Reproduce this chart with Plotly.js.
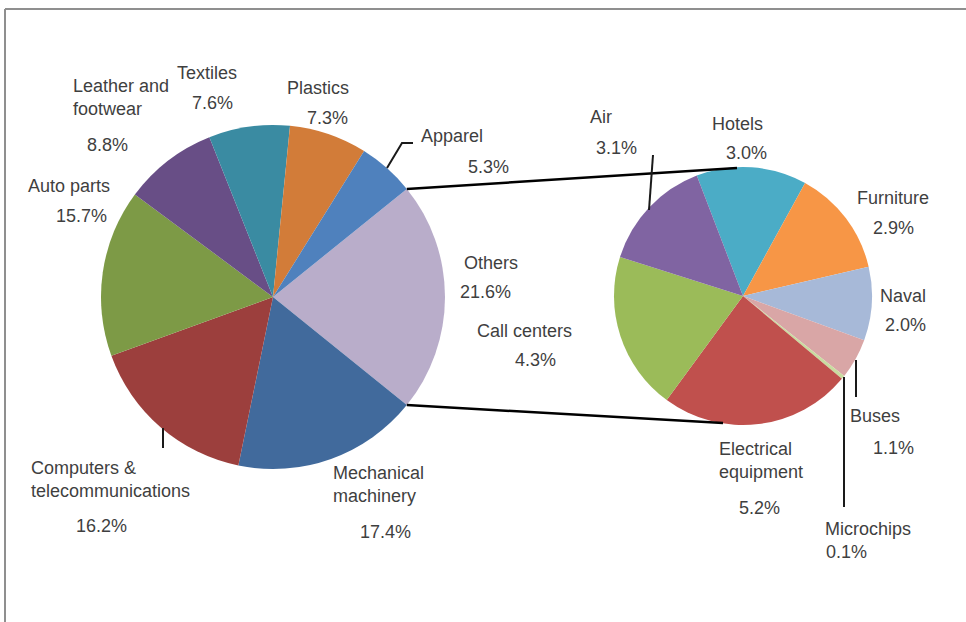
<!DOCTYPE html>
<html>
<head>
<meta charset="utf-8">
<script src="https://cdn.plot.ly/plotly-3.0.1.min.js"></script>
<style>html,body{margin:0;padding:0;background:#fff;}#chart{width:966px;height:622px;}</style>
</head>
<body>
<div id="chart"></div>
<script>
// ---- Data ----
const leftLabels = ['Others', 'Mechanical machinery', 'Computers & telecommunications', 'Auto parts', 'Leather and footwear', 'Textiles', 'Plastics', 'Apparel'];
const leftValues = [21.6, 17.4, 16.2, 15.7, 8.8, 7.6, 7.3, 5.3];
const leftColors = ['#B9ADCA', '#416A9C', '#9C3F3D', '#7D9A46', '#684E86', '#3A8BA2', '#D27C39', '#4F81BD'];

const rightLabels = ['Hotels', 'Furniture', 'Naval', 'Buses', 'Microchips', 'Electrical equipment', 'Call centers', 'Air'];
const rightValues = [3.0, 2.9, 2.0, 1.1, 0.1, 5.2, 4.3, 3.1];
const rightColors = ['#4BACC6', '#F79646', '#A7B9D8', '#D9A6A6', '#C9DCA0', '#C0504D', '#9BBB59', '#8064A2'];

// display text for names (line breaks as in the original)
const displayNames = {
  'Computers & telecommunications': 'Computers &<br>telecommunications',
  'Leather and footwear': 'Leather and<br>footwear',
  'Mechanical machinery': 'Mechanical<br>machinery',
  'Electrical equipment': 'Electrical<br>equipment'
};

// ---- Layout geometry (pixels) ----
const W = 966, H = 622;
const px = x => x / W;
const py = y => 1 - y / H;
const L = {cx: 273, cy: 297, r: 172};
const R = {cx: 743, cy: 296, r: 129};

// label placement: [nameX, nameY, nameAnchor, pctX, pctY]
const labelPos = {
  'Others': [491, 263, 'center', 486, 292],
  'Mechanical machinery': [331, 484, 'left', 385, 532],
  'Computers & telecommunications': [29, 479, 'left', 101, 526],
  'Auto parts': [69, 186, 'center', 81, 216],
  'Leather and footwear': [71, 97, 'left', 107, 145],
  'Textiles': [207, 73, 'center', 212, 103],
  'Plastics': [318, 88, 'center', 327, 118],
  'Apparel': [452, 136, 'center', 488, 167],
  'Hotels': [737, 124, 'center', 746, 153],
  'Furniture': [893, 198, 'center', 893, 228],
  'Naval': [903, 296, 'center', 905, 325],
  'Buses': [875, 416, 'center', 893, 448],
  'Microchips': [868, 529, 'center', 846, 552],
  'Electrical equipment': [717, 460, 'left', 759, 508],
  'Call centers': [524, 331, 'center', 535, 360],
  'Air': [601, 117, 'center', 616, 148]
};

// leader lines (pixel polylines)
const leaders = [
  [[387, 168], [402, 143], [413, 143]],
  [[653, 155], [649, 210]],
  [[163, 428], [163, 448]],
  [[856, 360], [856, 397]],
  [[844, 377], [844, 507]]
];

const totalLeft = leftValues.reduce((a, b) => a + b, 0);
const othersHalf = leftValues[0] / totalLeft * 180; // degrees
const leftRotation = 90 - othersHalf;

const traces = [
  {
    type: 'pie', labels: leftLabels, values: leftValues, sort: false, direction: 'clockwise',
    rotation: leftRotation, textinfo: 'none', hoverinfo: 'label+value', showlegend: false,
    marker: {colors: leftColors, line: {width: 0}},
    domain: {x: [px(L.cx - L.r), px(L.cx + L.r)], y: [py(L.cy + L.r), py(L.cy - L.r)]}
  },
  {
    type: 'pie', labels: rightLabels, values: rightValues, sort: false, direction: 'clockwise',
    rotation: -21, textinfo: 'none', hoverinfo: 'label+value', showlegend: false,
    marker: {colors: rightColors, line: {width: 0}},
    domain: {x: [px(R.cx - R.r), px(R.cx + R.r)], y: [py(R.cy + R.r), py(R.cy - R.r)]}
  }
];

const font = {family: 'Liberation Sans, Arial, sans-serif', size: 18, color: '#3f3f3f'};
const annotations = [];
function addLabels(labels, values) {
  labels.forEach((lab, i) => {
    const p = labelPos[lab];
    annotations.push({
      xref: 'paper', yref: 'paper', x: px(p[0]), y: py(p[1]),
      xanchor: p[2], yanchor: 'middle', align: p[2] === 'left' ? 'left' : 'center',
      text: displayNames[lab] || lab, showarrow: false, font: font
    });
    annotations.push({
      xref: 'paper', yref: 'paper', x: px(p[3]), y: py(p[4]),
      xanchor: 'center', yanchor: 'middle',
      text: values[i].toFixed(1) + '%', showarrow: false, font: font
    });
  });
}
addLabels(leftLabels, leftValues);
addLabels(rightLabels, rightValues);

const shapes = [];
// frame
shapes.push({type: 'line', xref: 'paper', yref: 'paper', x0: px(5), y0: py(9), x1: px(966), y1: py(9), line: {color: '#8f8f8f', width: 2}});
shapes.push({type: 'line', xref: 'paper', yref: 'paper', x0: px(5), y0: py(9), x1: px(5), y1: py(622), line: {color: '#8f8f8f', width: 2}});
// connector lines from the Others slice edges to the secondary pie
const a = othersHalf * Math.PI / 180;
const topStart = [L.cx + L.r * Math.cos(a), L.cy - L.r * Math.sin(a)];
const botStart = [L.cx + L.r * Math.cos(a), L.cy + L.r * Math.sin(a)];
const topEnd = [R.cx - 6, R.cy - R.r + 1];
const botEnd = [R.cx - 20, R.cy + R.r - 2];
shapes.push({type: 'line', xref: 'paper', yref: 'paper', x0: px(topStart[0]), y0: py(topStart[1]), x1: px(topEnd[0]), y1: py(topEnd[1]), line: {color: '#000', width: 2.5}});
shapes.push({type: 'line', xref: 'paper', yref: 'paper', x0: px(botStart[0]), y0: py(botStart[1]), x1: px(botEnd[0]), y1: py(botEnd[1]), line: {color: '#000', width: 2.5}});
// leader lines
leaders.forEach(pts => {
  const path = pts.map((p, i) => (i ? 'L' : 'M') + px(p[0]) + ',' + py(p[1])).join(' ');
  shapes.push({type: 'path', xref: 'paper', yref: 'paper', path: path, line: {color: '#1a1a1a', width: 2}});
});

const layout = {
  width: W, height: H, autosize: false,
  margin: {l: 0, r: 0, t: 0, b: 0},
  paper_bgcolor: '#ffffff', plot_bgcolor: '#ffffff',
  showlegend: false,
  annotations: annotations,
  shapes: shapes
};

Plotly.newPlot('chart', traces, layout, {displayModeBar: false, staticPlot: true});
</script>
</body>
</html>
